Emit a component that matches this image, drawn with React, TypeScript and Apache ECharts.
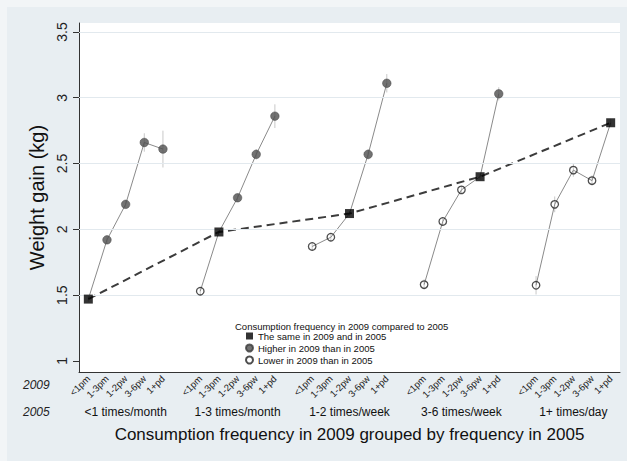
import React, { useEffect, useRef } from 'react';
import * as echarts from 'echarts';

// 2009 consumption frequency (sub-categories) and 2005 groups
const freq2009 = ['<1pm', '1-3pm', '1-2pw', '3-6pw', '1+pd'];
const groups2005 = ['<1 times/month', '1-3 times/month', '1-2 times/week', '3-6 times/week', '1+ times/day'];
const yTicks = [1, 1.5, 2, 2.5, 3, 3.5];
const gridTicks = [1.5, 2, 2.5, 3, 3.5];

// Weight gain (kg) per 2009 frequency, one array per 2005 group
const gainLt1pm = [1.47, 1.92, 2.19, 2.66, 2.61];
const gain1to3pm = [1.53, 1.98, 2.24, 2.57, 2.86];
const gain1to2pw = [1.87, 1.94, 2.12, 2.57, 3.11];
const gain3to6pw = [1.58, 2.06, 2.3, 2.4, 3.03];
const gain1pd = [1.575, 2.19, 2.45, 2.37, 2.81];

// confidence-interval half widths
const ciLt1pm = [0.02, 0.03, 0.03, 0.07, 0.14];
const ci1to3pm = [0.03, 0.02, 0.03, 0.04, 0.09];
const ci1to2pw = [0.03, 0.03, 0.02, 0.04, 0.07];
const ci3to6pw = [0.04, 0.03, 0.03, 0.02, 0.05];
const ci1pd = [0.07, 0.06, 0.05, 0.04, 0.03];

const legendTitle = 'Consumption frequency in 2009 compared to 2005';
const nameSame = 'The same in 2009 and in 2005';
const nameHigher = 'Higher in 2009 than in 2005';
const nameLower = 'Lower in 2009 than in 2005';

const FONT = "'Liberation Sans', Arial, sans-serif";

export default function App() {
  const ref = useRef<HTMLDivElement>(null);

  useEffect(() => {
    if (!ref.current) return;
    const chart = echarts.init(ref.current, undefined, { renderer: 'svg' });

    const gains = [gainLt1pm, gain1to3pm, gain1to2pw, gain3to6pw, gain1pd];
    const cis = [ciLt1pm, ci1to3pm, ci1to2pw, ci3to6pw, ci1pd];

    const cats: string[] = [];
    const idxOf: number[][] = [];
    groups2005.forEach((_, gi) => {
      idxOf.push([]);
      freq2009.forEach((f) => {
        idxOf[gi].push(cats.length);
        cats.push(`g${gi}|${f}`);
      });
      if (gi < groups2005.length - 1) cats.push(`gap${gi}`);
    });

    const same: number[][] = [];
    const higher: number[][] = [];
    const lower: number[][] = [];
    const errs: number[][] = [];
    const groupLines: any[] = [];
    gains.forEach((arr, gi) => {
      const pts: number[][] = [];
      arr.forEach((v, j) => {
        const p = [idxOf[gi][j], v];
        pts.push(p);
        errs.push([idxOf[gi][j], v - cis[gi][j], v + cis[gi][j]]);
        if (j === gi) same.push(p);
        else if (j > gi) higher.push(p);
        else lower.push(p);
      });
      groupLines.push({
        type: 'line',
        name: `group${gi}`,
        data: pts,
        symbol: 'none',
        silent: true,
        lineStyle: { color: '#8a8a8a', width: 1 },
        z: 3,
      });
    });

    const option: any = {
      animation: false,
      backgroundColor: '#f2f5f7',
      textStyle: { fontFamily: FONT },
      graphic: [
        {
          type: 'rect',
          z: -10,
          shape: { x: 7, y: 7, width: 620, height: 454 },
          style: { fill: '#e8eef2' },
          silent: true,
        },
        {
          type: 'text',
          left: 23,
          top: 379,
          style: { text: '2009', fontSize: 12, fontStyle: 'italic', fontFamily: FONT, fill: '#222' },
        },
        {
          type: 'text',
          left: 23,
          top: 406,
          style: { text: '2005', fontSize: 12, fontStyle: 'italic', fontFamily: FONT, fill: '#222' },
        },
      ],
      title: {
        text: legendTitle,
        left: 235,
        top: 321,
        padding: 0,
        textStyle: { fontSize: 9.5, fontWeight: 'normal', color: '#111', fontFamily: FONT },
      },
      legend: {
        orient: 'vertical',
        left: 245,
        top: 331,
        padding: 0,
        itemWidth: 7,
        itemHeight: 7,
        itemGap: 2,
        textStyle: { fontSize: 9.5, color: '#111', fontFamily: FONT },
        data: [
          { name: nameSame, icon: 'rect' },
          { name: nameHigher, icon: 'circle' },
          { name: nameLower, icon: 'circle' },
        ],
      },
      grid: {
        left: 79,
        right: 7,
        top: 23,
        bottom: 89,
        show: true,
        backgroundColor: '#ffffff',
        borderWidth: 0,
      },
      xAxis: [
        {
          type: 'category',
          data: cats,
          boundaryGap: true,
          axisLine: { lineStyle: { color: '#333', width: 1 } },
          axisTick: {
            alignWithLabel: true,
            length: 5,
            interval: (i: number, v: string) => !v.startsWith('gap'),
            lineStyle: { color: '#333' },
          },
          axisLabel: {
            interval: (i: number, v: string) => !v.startsWith('gap'),
            rotate: 45,
            fontSize: 9.5,
            margin: 5,
            color: '#222',
            fontFamily: FONT,
            formatter: (v: string) => (v.startsWith('gap') ? '' : v.split('|')[1]),
          },
          splitLine: { show: false },
        },
        {
          type: 'category',
          data: cats,
          position: 'bottom',
          boundaryGap: true,
          axisLine: { show: false },
          axisTick: { show: false },
          axisLabel: {
            interval: 0,
            fontSize: 12,
            margin: 34,
            color: '#111',
            fontFamily: FONT,
            formatter: (v: string) => {
              if (v.startsWith('gap')) return '';
              const [g, f] = v.split('|');
              return f === freq2009[2] ? groups2005[Number(g.slice(1))] : '';
            },
          },
          name: 'Consumption frequency in 2009 grouped by frequency in 2005',
          nameLocation: 'middle',
          nameGap: 54,
          nameTextStyle: { fontSize: 17, color: '#111', fontFamily: FONT },
        },
      ],
      yAxis: {
        type: 'value',
        min: 0.916,
        max: 3.568,
        axisLine: { show: true, lineStyle: { color: '#333', width: 1 } },
        axisTick: { show: true, length: 6, customValues: yTicks, lineStyle: { color: '#333' } },
        axisLabel: {
          customValues: yTicks,
          rotate: 90,
          fontSize: 14,
          margin: 10,
          color: '#222',
          fontFamily: FONT,
          formatter: (v: number) => String(v),
        },
        splitLine: { show: false },
        name: 'Weight gain (kg)',
        nameLocation: 'middle',
        nameRotate: 90,
        nameGap: 30,
        nameTextStyle: { fontSize: 20, color: '#111', fontFamily: FONT },
      },
      series: [
        {
          type: 'line',
          name: 'gridlines',
          data: [],
          silent: true,
          markLine: {
            silent: true,
            symbol: 'none',
            label: { show: false },
            lineStyle: { color: '#e2e9ee', width: 1, type: 'solid' },
            data: gridTicks.map((v) => ({ yAxis: v })),
          },
          z: 1,
        },
        {
          type: 'custom',
          name: 'ci',
          silent: true,
          data: errs,
          z: 2,
          renderItem: (params: any, api: any) => {
            const p1 = api.coord([api.value(0), api.value(1)]);
            const p2 = api.coord([api.value(0), api.value(2)]);
            return {
              type: 'line',
              shape: { x1: p1[0], y1: p1[1], x2: p2[0], y2: p2[1] },
              style: { stroke: '#c8c8c8', lineWidth: 1 },
            };
          },
        },
        ...groupLines,
        {
          type: 'line',
          name: 'sameTrend',
          data: same,
          symbol: 'none',
          silent: true,
          lineStyle: { color: '#3c3c3c', width: 2, type: [8, 5] },
          z: 4,
        },
        {
          type: 'scatter',
          name: nameSame,
          data: same,
          symbol: 'rect',
          symbolSize: 9,
          itemStyle: { color: '#000' },
          z: 6,
        },
        {
          type: 'scatter',
          name: nameHigher,
          data: higher,
          symbol: 'circle',
          symbolSize: 8.5,
          itemStyle: { color: '#4f4f4f', borderColor: '#3a3a3a', borderWidth: 0.6 },
          z: 6,
        },
        {
          type: 'scatter',
          name: nameLower,
          data: lower,
          symbol: 'circle',
          symbolSize: 7.5,
          itemStyle: { color: 'rgba(255,255,255,0)', borderColor: '#222', borderWidth: 1.3 },
          z: 6,
        },
      ],
    };

    chart.setOption(option);
    return () => chart.dispose();
  }, []);

  return (
    <div
      ref={ref}
      style={{ position: 'fixed', left: 0, top: 0, width: 627, height: 461 }}
    />
  );
}
